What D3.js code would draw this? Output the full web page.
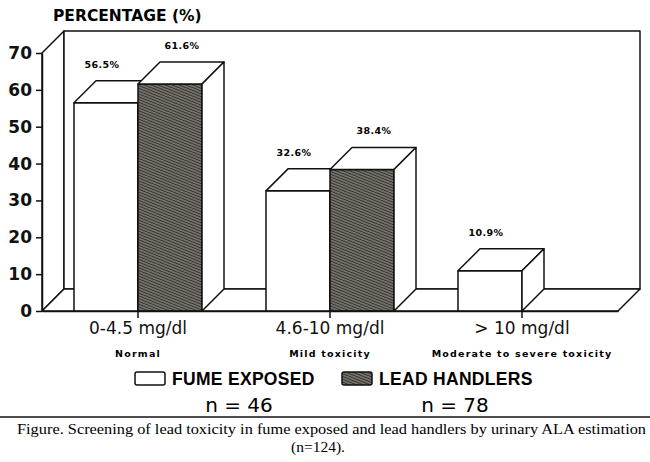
<!DOCTYPE html>
<html>
<head>
<meta charset="utf-8">
<script src="https://cdn.jsdelivr.net/npm/d3@7"></script>
<style>
  body { margin: 0; background: #fff; }
  svg { display: block; }
</style>
</head>
<body>
<script>
// data
const categories = ["0-4.5 mg/dl", "4.6-10 mg/dl", "> 10 mg/dl"];
const subLabels = ["Normal", "Mild toxicity", "Moderate to severe toxicity"];
const seriesNames = ["FUME EXPOSED", "LEAD HANDLERS"];
const fumeExposed = [56.5, 32.6, 10.9];
const leadHandlers = [61.6, 38.4, null];
const sampleSizes = [46, 78];
const yTicks = [0, 10, 20, 30, 40, 50, 60, 70];

const width = 650, height = 462;
const depth = 22;

const svg = d3.select("body").append("svg")
    .attr("width", width)
    .attr("height", height);

// hatch fill for lead handlers
const pat = svg.append("defs").append("pattern")
    .attr("id", "hatch")
    .attr("patternUnits", "userSpaceOnUse")
    .attr("width", 2.6).attr("height", 2.6)
    .attr("patternTransform", "rotate(22)");
pat.append("rect").attr("width", 2.6).attr("height", 2.6).attr("fill", "#8f8c84");
pat.append("line").attr("x1", 0).attr("y1", 1.3).attr("x2", 2.6).attr("y2", 1.3)
    .attr("stroke", "#34322d").attr("stroke-width", 1.4);

const x0 = d3.scaleBand().domain(categories).range([42, 618]);
const x1 = d3.scaleBand().domain(seriesNames).range([0, x0.bandwidth()]).paddingOuter(0.5);
const y = d3.scaleLinear().domain([0, 70]).range([311, 53]);

const xl = x0.range()[0], xr = x0.range()[1];
const yb = y(0), yt = y(70);

const line = { stroke: "#111", "stroke-width": 1.5, "stroke-linejoin": "round" };
function applyLine(sel) {
    Object.keys(line).forEach(k => sel.attr(k, line[k]));
    return sel;
}

// box: left side wall, back wall, floor
applyLine(svg.append("path")
    .attr("d", `M${xl},${yb}L${xl},${yt}L${xl + depth},${yt - depth}L${xl + depth},${yb - depth}Z`)
    .attr("fill", "#fff"));
applyLine(svg.append("rect")
    .attr("x", xl + depth).attr("y", yt - depth)
    .attr("width", xr - xl).attr("height", yb - yt)
    .attr("fill", "#fff"));
applyLine(svg.append("path")
    .attr("d", `M${xl},${yb}L${xl + depth},${yb - depth}L${xr + depth},${yb - depth}L${xr},${yb}Z`)
    .attr("fill", "#fff"));

// bars
const bars = [];
categories.forEach((c, i) => {
    [fumeExposed[i], leadHandlers[i]].forEach((v, s) => {
        if (v == null) return;
        bars.push({ cat: c, series: seriesNames[s], s: s, value: v });
    });
});

const bar = svg.append("g").selectAll("g")
    .data(bars)
    .enter().append("g");

bar.each(function (d) {
    const g = d3.select(this);
    const bx = x0(d.cat) + x1(d.series);
    const w = x1.bandwidth();
    const ty = y(d.value);
    applyLine(g.append("rect")
        .attr("x", bx).attr("y", ty)
        .attr("width", w).attr("height", yb - ty)
        .attr("fill", d.s ? "url(#hatch)" : "#fff"));
    applyLine(g.append("path")
        .attr("d", `M${bx},${ty}L${bx + depth},${ty - depth}L${bx + w + depth},${ty - depth}L${bx + w},${ty}Z`)
        .attr("fill", "#fff"));
    applyLine(g.append("path")
        .attr("d", `M${bx + w},${ty}L${bx + w + depth},${ty - depth}L${bx + w + depth},${yb - depth}L${bx + w},${yb}Z`)
        .attr("fill", "#fff"));
    g.append("text")
        .attr("x", bx + w / 2 + (d.s ? 12 : -4))
        .attr("y", ty - depth - 13)
        .attr("text-anchor", "middle")
        .attr("font-family", "DejaVu Sans")
        .attr("font-weight", "bold")
        .attr("font-size", 9.5)
        .attr("letter-spacing", 0.4)
        .text(d.value.toFixed(1) + "%");
});

// axes
const yAxis = svg.append("g")
    .attr("transform", `translate(${xl},0)`)
    .call(d3.axisLeft(y).tickValues(yTicks).tickSize(6).tickSizeOuter(0).tickPadding(4));
yAxis.selectAll("text")
    .attr("font-family", "DejaVu Sans")
    .attr("font-weight", "bold")
    .attr("font-size", 17)
    .attr("fill", "#111");

const xAxis = svg.append("g")
    .attr("transform", `translate(0,${yb})`)
    .call(d3.axisBottom(x0).tickSize(7).tickSizeOuter(0).tickPadding(4));
xAxis.selectAll("text")
    .attr("font-family", "DejaVu Sans")
    .attr("font-size", 17)
    .attr("fill", "#111");

svg.selectAll(".domain, .tick line").attr("stroke", "#111").attr("stroke-width", 1.5);

svg.append("g").selectAll("text")
    .data(subLabels)
    .enter().append("text")
    .attr("x", (d, i) => x0(categories[i]) + x0.bandwidth() / 2)
    .attr("y", 357)
    .attr("text-anchor", "middle")
    .attr("font-family", "DejaVu Sans")
    .attr("font-weight", "bold")
    .attr("font-size", 9.5)
    .attr("letter-spacing", 1.2)
    .text(d => d);

// y title
svg.append("text")
    .attr("x", 53).attr("y", 21)
    .attr("font-family", "DejaVu Sans")
    .attr("font-weight", "bold")
    .attr("font-size", 15.5)
    .text("PERCENTAGE (%)");

// legend
const legendX = [135, 342];
const leg = svg.append("g").selectAll("g")
    .data(seriesNames)
    .enter().append("g")
    .attr("transform", (d, i) => `translate(${legendX[i]},372)`);
leg.append("rect")
    .attr("width", 30).attr("height", 13).attr("rx", 2)
    .attr("fill", (d, i) => i ? "url(#hatch)" : "#fff")
    .attr("stroke", "#111").attr("stroke-width", 1.5);
leg.append("text")
    .attr("x", 37).attr("y", 13)
    .attr("font-family", "Liberation Sans")
    .attr("font-weight", "bold")
    .attr("font-size", 17.5)
    .attr("letter-spacing", 0.3)
    .text(d => d);
leg.append("text")
    .attr("x", (d, i) => i ? 113 : 104).attr("y", 40)
    .attr("text-anchor", "middle")
    .attr("font-family", "DejaVu Sans")
    .attr("font-size", 20)
    .text((d, i) => "n = " + sampleSizes[i]);

// caption
svg.append("line")
    .attr("x1", 0).attr("x2", width).attr("y1", 417).attr("y2", 417)
    .attr("stroke", "#111").attr("stroke-width", 1.5);
svg.append("text")
    .attr("x", 17).attr("y", 434)
    .attr("font-family", "Liberation Serif")
    .attr("font-size", 15.5)
    .attr("textLength", 629)
    .attr("lengthAdjust", "spacingAndGlyphs")
    .text("Figure. Screening of lead toxicity in fume exposed and lead handlers by urinary ALA estimation");
svg.append("text")
    .attr("x", 318).attr("y", 452)
    .attr("text-anchor", "middle")
    .attr("font-family", "Liberation Serif")
    .attr("font-size", 15.5)
    .text("(n=" + d3.sum(sampleSizes) + ").");
</script>
</body>
</html>
